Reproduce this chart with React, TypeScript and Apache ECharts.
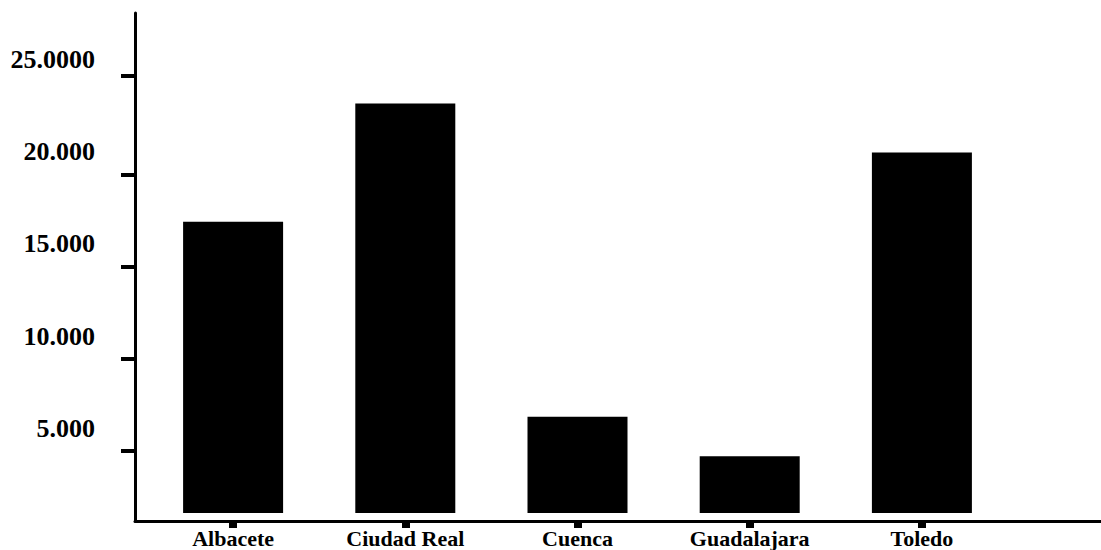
import React, { useEffect, useRef } from "react";
import * as echarts from "echarts";

const categories = ["Albacete", "Ciudad Real", "Cuenca", "Guadalajara", "Toledo"];
const values = [16200, 22600, 5650, 3500, 19950];
const yLabelValues = [5000, 10000, 15000, 20000, 25000];
const yLabelTexts = ["5.000", "10.000", "15.000", "20.000", "25.0000"];
const yTickValues = [3800, 8800, 13750, 18750, 24100];
const Y_MAX = 27500;

const FONT = "'Liberation Serif', 'Times New Roman', serif";

export default function App() {
  const ref = useRef<HTMLDivElement>(null);
  useEffect(() => {
    if (!ref.current) return;
    const chart = echarts.init(ref.current, undefined, { renderer: "svg" });
    chart.setOption({
      animation: false,
      backgroundColor: "#ffffff",
      grid: [
        { left: 147, right: 93, top: 13, bottom: 29 },
        { left: 135, right: 0, top: 13, bottom: 29 },
      ],
      xAxis: [
        {
          type: "category",
          gridIndex: 0,
          z: 200,
          data: categories,
          axisLine: { show: false },
          axisTick: {
            show: true,
            alignWithLabel: true,
            length: 7,
            lineStyle: { color: "#000", width: 8 },
          },
          axisLabel: {
            margin: 6,
            color: "#000",
            fontFamily: FONT,
            fontWeight: "bold",
            fontSize: 22,
          },
          splitLine: { show: false },
        },
        {
          type: "value",
          gridIndex: 1,
          z: 200,
          min: 0,
          max: 1,
          axisLine: { show: true, lineStyle: { color: "#000", width: 3 } },
          axisTick: { show: false },
          axisLabel: { show: false },
          splitLine: { show: false },
        },
      ],
      yAxis: [
        {
          type: "value",
          gridIndex: 1,
          z: 200,
          min: 0,
          max: Y_MAX,
          axisLine: { show: true, lineStyle: { color: "#000", width: 3 } },
          axisTick: {
            show: true,
            length: 14,
            customValues: yTickValues,
            lineStyle: { color: "#000", width: 4 },
          },
          axisLabel: {
            show: true,
            customValues: yLabelValues,
            margin: 40,
            color: "#000",
            fontFamily: FONT,
            fontWeight: "bold",
            fontSize: 26,
            formatter: (v: number) => {
              const i = yLabelValues.indexOf(v);
              return i >= 0 ? yLabelTexts[i] : "";
            },
          },
          splitLine: { show: false },
        },
        {
          type: "value",
          gridIndex: 0,
          min: 0,
          max: Y_MAX,
          show: false,
          splitLine: { show: false },
        },
      ],
      series: [
        {
          type: "bar",
          xAxisIndex: 0,
          yAxisIndex: 1,
          data: values,
          barWidth: 100,
          itemStyle: { color: "#000" },
        },
      ],
    });
    // small white gap between bar bases and the x axis line, as in the original
    const y0 = chart.convertToPixel({ yAxisIndex: 1 }, 0) as number;
    chart.setOption({
      graphic: [
        {
          type: "rect",
          z: 100,
          shape: { x: 137, y: y0 - 8, width: 1101 - 137, height: 8 },
          style: { fill: "#ffffff" },
        },
      ],
    });
    return () => chart.dispose();
  }, []);
  return (
    <div
      ref={ref}
      style={{ position: "absolute", left: 0, top: 0, width: 1101, height: 550 }}
    />
  );
}
